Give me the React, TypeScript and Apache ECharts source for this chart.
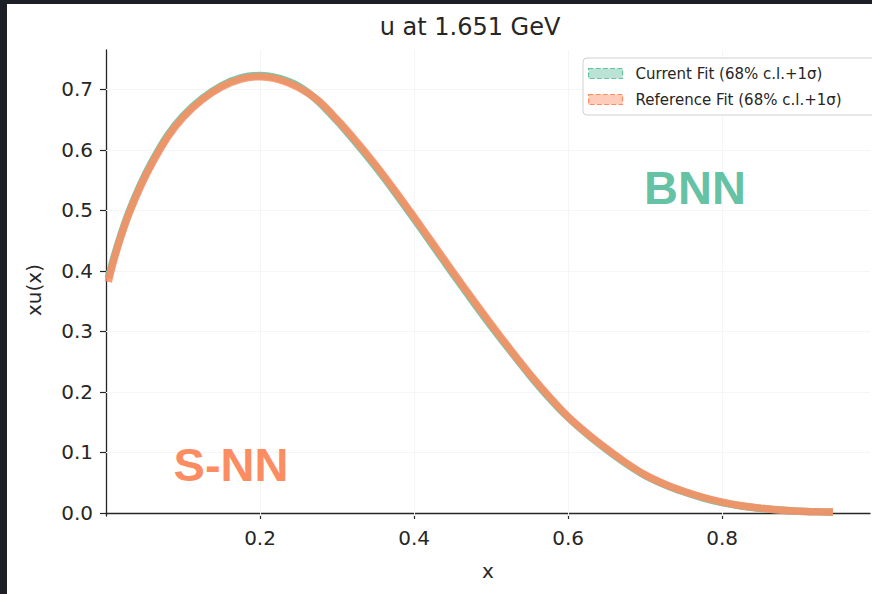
import React, { useEffect, useRef } from "react";
import * as echarts from "echarts";

const xs = [0.003, 0.01, 0.02, 0.03, 0.045, 0.06, 0.08, 0.1, 0.125, 0.15, 0.175, 0.2, 0.225, 0.25, 0.275, 0.3, 0.325, 0.35, 0.375, 0.4, 0.425, 0.45, 0.475, 0.5, 0.525, 0.55, 0.575, 0.6, 0.625, 0.65, 0.675, 0.7, 0.725, 0.75, 0.775, 0.8, 0.825, 0.85, 0.875, 0.9, 0.925, 0.944];
const currentFit = [0.388, 0.421, 0.462, 0.498, 0.543, 0.581, 0.624, 0.656, 0.685, 0.706, 0.719, 0.723, 0.718, 0.705, 0.681, 0.648, 0.611, 0.572, 0.53, 0.486, 0.441, 0.396, 0.352, 0.309, 0.268, 0.228, 0.191, 0.158, 0.13, 0.105, 0.082, 0.062, 0.047, 0.035, 0.025, 0.017, 0.0115, 0.0075, 0.0048, 0.0029, 0.0019, 0.0014];
const referenceFit = [0.382, 0.417, 0.459, 0.495, 0.54, 0.578, 0.621, 0.6535, 0.683, 0.704, 0.717, 0.721, 0.716, 0.703, 0.682, 0.65, 0.614, 0.575, 0.533, 0.489, 0.444, 0.399, 0.355, 0.312, 0.27, 0.23, 0.193, 0.159, 0.131, 0.106, 0.083, 0.063, 0.048, 0.036, 0.026, 0.018, 0.012, 0.008, 0.005, 0.003, 0.002, 0.0015];
const yTicks = [0, 0.1, 0.2, 0.3, 0.4, 0.5, 0.6, 0.7];
const xTicks = [0.2, 0.4, 0.6, 0.8];
const seriesNames = ["Current Fit (68% c.l.+1σ)", "Reference Fit (68% c.l.+1σ)"];

const GREEN = "#66c2a5";
const ORANGE = "#fc8d62";
const FONT = "DejaVu Sans";

export default function App() {
  const ref = useRef<HTMLDivElement>(null);
  useEffect(() => {
    document.body.style.margin = "0";
    const chart = echarts.init(ref.current!, null, { renderer: "svg" });
    const axisCommon = {
      axisLine: { show: true, lineStyle: { color: "#262626", width: 1.3 } },
      axisTick: { show: true, length: 6, lineStyle: { color: "#262626", width: 1.2 } },
      splitLine: { show: false },
    };
    chart.setOption({
      animation: false,
      backgroundColor: "#ffffff",
      textStyle: { fontFamily: FONT },
      grid: { left: 106, right: 2, top: 50, bottom: 78, containLabel: false },
      xAxis: {
        type: "value",
        min: 0,
        max: 0.992,
        ...axisCommon,
        axisTick: { ...axisCommon.axisTick, customValues: xTicks },
        axisLabel: {
          customValues: xTicks,
          formatter: (v: number) => v.toFixed(1),
          fontSize: 20,
          color: "#262626",
          margin: 12,
          fontFamily: FONT,
        },
      },
      yAxis: {
        type: "value",
        min: -0.005,
        max: 0.765,
        ...axisCommon,
        axisTick: { ...axisCommon.axisTick, customValues: yTicks },
        axisLabel: {
          customValues: yTicks,
          formatter: (v: number) => v.toFixed(1),
          fontSize: 20,
          color: "#262626",
          margin: 13,
          fontFamily: FONT,
        },
      },
      legend: {
        orient: "vertical",
        left: 583,
        top: 58,
        z: 20,
        padding: [8, 49, 8, 5],
        itemWidth: 34,
        itemHeight: 10,
        itemGap: 11,
        backgroundColor: "#ffffff",
        borderColor: "#d0d0d0",
        borderWidth: 1,
        borderRadius: 4,
        textStyle: { fontSize: 15, color: "#262626", fontFamily: FONT, padding: [0, 0, 0, 8] },
        data: [
          {
            name: seriesNames[0],
            icon: "rect",
            itemStyle: { color: "rgba(102,194,165,0.45)", borderColor: GREEN, borderWidth: 1.2, borderType: "dashed" },
          },
          {
            name: seriesNames[1],
            icon: "rect",
            itemStyle: { color: "rgba(252,141,98,0.45)", borderColor: ORANGE, borderWidth: 1.2, borderType: "dashed" },
          },
        ],
      },
      series: [
        {
          name: seriesNames[0],
          type: "line",
          data: xs.map((x, i) => [x, currentFit[i]]),
          showSymbol: false,
          smooth: 0.3,
          z: 2,
          lineStyle: { color: GREEN, width: 7.5, opacity: 0.9 },
          itemStyle: { color: GREEN },
          markLine: {
            silent: true,
            symbol: "none",
            z: 1,
            label: { show: false },
            lineStyle: { color: "#f5f5f5", width: 1, type: "solid" },
            data: [
              ...yTicks.slice(1).map((v) => ({ yAxis: v })),
              ...xTicks.map((v) => ({ xAxis: v })),
            ],
          },
        },
        {
          name: seriesNames[1],
          type: "line",
          data: xs.map((x, i) => [x, referenceFit[i]]),
          showSymbol: false,
          smooth: 0.3,
          z: 3,
          lineStyle: { color: ORANGE, width: 7.5, opacity: 0.88 },
          itemStyle: { color: ORANGE },
        },
      ],
      graphic: [
        { type: "rect", z: 100, shape: { x: 0, y: 0, width: 872, height: 4 }, style: { fill: "#1c2026" } },
        { type: "rect", z: 100, shape: { x: 0, y: 0, width: 7, height: 594 }, style: { fill: "#1c2026" } },
        {
          type: "text",
          z: 100,
          x: 470,
          y: 27,
          style: { text: "u at 1.651 GeV", fontSize: 24, fontFamily: FONT, fill: "#262626", textAlign: "center", textVerticalAlign: "middle" },
        },
        {
          type: "text",
          z: 100,
          x: 34,
          y: 290,
          rotation: Math.PI / 2,
          style: { text: "xu(x)", fontSize: 20, fontFamily: FONT, fill: "#262626", textAlign: "center", textVerticalAlign: "middle" },
        },
        {
          type: "text",
          z: 100,
          x: 488,
          y: 571,
          style: { text: "x", fontSize: 20, fontFamily: FONT, fill: "#262626", textAlign: "center", textVerticalAlign: "middle" },
        },
        {
          type: "text",
          z: 100,
          x: 695,
          y: 187,
          style: { text: "BNN", fontSize: 47, fontWeight: "bold", fontFamily: "Liberation Sans", fill: GREEN, textAlign: "center", textVerticalAlign: "middle" },
        },
        {
          type: "text",
          z: 100,
          x: 231,
          y: 464,
          style: { text: "S-NN", fontSize: 47, fontWeight: "bold", fontFamily: "Liberation Sans", fill: ORANGE, textAlign: "center", textVerticalAlign: "middle" },
        },
      ],
    });
    return () => chart.dispose();
  }, []);
  return (
    <div style={{ position: "fixed", left: 0, top: 0, width: 872, height: 594, background: "#1c2026" }}>
      <div ref={ref} style={{ width: 872, height: 594 }} />
    </div>
  );
}
